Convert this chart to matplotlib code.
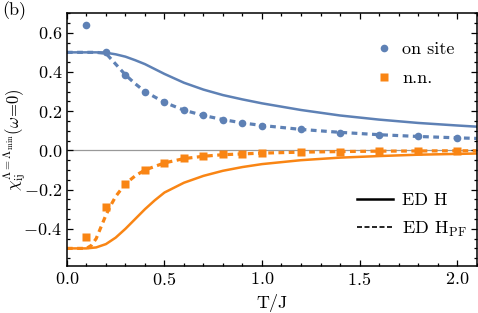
import matplotlib
matplotlib.use("Agg")
import matplotlib.pyplot as plt
from matplotlib.lines import Line2D
from matplotlib.ticker import MultipleLocator, FuncFormatter

plt.rcParams['mathtext.fontset'] = 'cm'
plt.rcParams['font.family'] = ['cmr10', 'DejaVu Serif']
plt.rcParams['axes.formatter.use_mathtext'] = True
plt.rcParams['axes.unicode_minus'] = False

BLUE = '#5E81B5'
ORANGE = '#F98514'

# markers (FRG data)
T_pts = [0.1, 0.2, 0.3, 0.4, 0.5, 0.6, 0.7, 0.8, 0.9, 1.0, 1.2, 1.4, 1.6, 1.8, 2.0]
onsite_pts = [0.64, 0.50, 0.385, 0.30, 0.245, 0.205, 0.178, 0.156, 0.140, 0.125, 0.107, 0.090, 0.078, 0.071, 0.064]
nn_pts = [-0.444, -0.288, -0.170, -0.098, -0.063, -0.038, -0.028, -0.020, -0.017, -0.013, -0.009, -0.006, -0.004, -0.003, -0.002]

# ED H (solid)
T_edh = [0.0, 0.1, 0.15, 0.2, 0.25, 0.3, 0.35, 0.4, 0.45, 0.5, 0.6, 0.7, 0.8, 0.9, 1.0, 1.2, 1.4, 1.6, 1.8, 2.0, 2.1]
onsite_edh = [0.5, 0.5, 0.5, 0.498, 0.49, 0.478, 0.46, 0.44, 0.415, 0.39, 0.345, 0.31, 0.282, 0.26, 0.24, 0.206, 0.178, 0.157, 0.14, 0.127, 0.121]
T_edh_nn = [0.0, 0.1, 0.15, 0.2, 0.25, 0.3, 0.35, 0.4, 0.45, 0.5, 0.6, 0.7, 0.8, 0.9, 1.0, 1.2, 1.4, 1.6, 1.8, 2.0, 2.1]
nn_edh = [-0.5, -0.5, -0.495, -0.478, -0.445, -0.40, -0.35, -0.30, -0.255, -0.215, -0.165, -0.130, -0.104, -0.085, -0.070, -0.050, -0.037, -0.029, -0.022, -0.018, -0.016]

# ED H_PF (dashed)
T_pf = [0.0, 0.1, 0.15, 0.2, 0.25, 0.3, 0.35, 0.4, 0.5, 0.6, 0.7, 0.8, 0.9, 1.0, 1.2, 1.4, 1.6, 1.8, 2.0, 2.1]
onsite_pf = [0.5, 0.5, 0.5, 0.495, 0.44, 0.385, 0.34, 0.30, 0.245, 0.205, 0.178, 0.157, 0.140, 0.127, 0.107, 0.092, 0.080, 0.071, 0.064, 0.061]
T_pf_nn = [0.0, 0.1, 0.125, 0.15, 0.175, 0.2, 0.225, 0.25, 0.3, 0.35, 0.4, 0.5, 0.6, 0.7, 0.8, 0.9, 1.0, 1.2, 1.4, 1.6, 1.8, 2.0, 2.1]
nn_pf = [-0.5, -0.5, -0.485, -0.45, -0.39, -0.33, -0.28, -0.235, -0.17, -0.13, -0.10, -0.064, -0.042, -0.030, -0.022, -0.018, -0.014, -0.009, -0.006, -0.004, -0.003, -0.002, -0.002]

fig = plt.figure(figsize=(4.78, 3.13), dpi=100)
ax = fig.add_axes([0.140, 0.150, 0.857, 0.808])

ax.axhline(0, color='#999999', lw=0.9, zorder=1)

dash = (1.8, 1.4)
ax.plot(T_edh, onsite_edh, color=BLUE, lw=1.8, zorder=2)
ax.plot(T_edh_nn, nn_edh, color=ORANGE, lw=1.8, zorder=2)
ax.plot(T_pf, onsite_pf, color=BLUE, lw=2.3, ls=(0, dash), zorder=2)
ax.plot(T_pf_nn, nn_pf, color=ORANGE, lw=2.3, ls=(0, dash), zorder=2)
ax.plot(T_pts, onsite_pts, 'o', color=BLUE, ms=5.5, mec='none', zorder=3)
ax.plot(T_pts, nn_pts, 's', color=ORANGE, ms=5.2, mec='none', zorder=3)

ax.set_xlim(0, 2.1)
ax.set_ylim(-0.59, 0.70)
ax.xaxis.set_major_locator(MultipleLocator(0.5))
ax.xaxis.set_minor_locator(MultipleLocator(0.1))
ax.yaxis.set_major_locator(MultipleLocator(0.2))
ax.yaxis.set_minor_locator(MultipleLocator(0.05))
fmt = FuncFormatter(lambda v, p: r'$%.1f$' % (0.0 if abs(v) < 1e-9 else v))
ax.xaxis.set_major_formatter(fmt)
ax.yaxis.set_major_formatter(fmt)
ax.tick_params(which='both', direction='in', top=True, right=True, width=0.9, labelsize=13)
ax.tick_params(which='major', length=4.5)
ax.tick_params(which='minor', length=2.5)
for s in ax.spines.values():
    s.set_linewidth(1.1)

ax.set_xlabel('T/J', fontsize=13)
ax.xaxis.set_label_coords(0.5, -0.112)
ax.set_ylabel(r'$\chi_{\mathrm{ij}}^{\Lambda=\Lambda_{\mathrm{min}}}(\omega\!=\!0)$', fontsize=12)
ax.yaxis.set_label_coords(-0.095, 0.5)

h1 = [Line2D([], [], marker='o', ls='none', color=BLUE, ms=5.5, mec='none'),
      Line2D([], [], marker='s', ls='none', color=ORANGE, ms=5.2, mec='none')]
leg1 = ax.legend(h1, ['on site', 'n.n.'], loc='center left',
                 bbox_to_anchor=(0.713, 0.80), frameon=False, fontsize=13,
                 handlelength=1.0, handletextpad=0.5, labelspacing=0.75)
ax.add_artist(leg1)
h2 = [Line2D([], [], color='black', lw=1.8),
      Line2D([], [], color='black', lw=1.2, ls=(0, (3, 1.5)))]
ax.legend(h2, ['ED H', r'ED H$_{\mathrm{PF}}$'], loc='center left',
          bbox_to_anchor=(0.668, 0.20), frameon=False, fontsize=13,
          handlelength=2.0, handletextpad=0.5, labelspacing=0.65)

fig.text(0.004, 0.995, '(b)', fontsize=13, va='top', ha='left')

fig.savefig('out.png', dpi=100)
